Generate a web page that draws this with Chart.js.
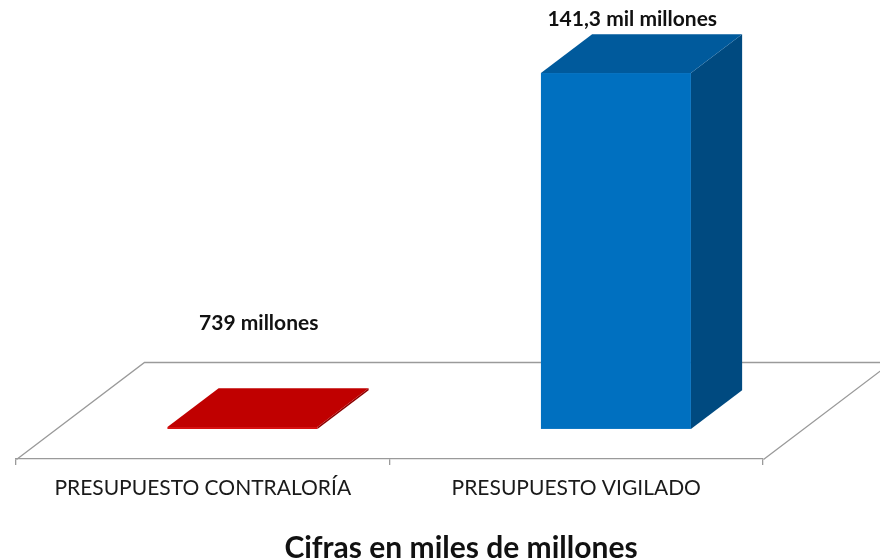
<!DOCTYPE html>
<html><head><meta charset="utf-8">
<script src="https://cdn.jsdelivr.net/npm/chart.js@4/dist/chart.umd.min.js"></script>
<style>html,body{margin:0;padding:0;background:#fff}#wrap{width:880px;height:560px;position:relative}</style>
</head><body><div id="wrap"><canvas id="c"></canvas></div>
<script>
// ---- data ----
const categories = ['PRESUPUESTO CONTRALORÍA', 'PRESUPUESTO VIGILADO'];
const values = [0.739, 141.3];            // miles de millones
const valueLabels = ['739 millones', '141,3 mil millones'];
const titleText = 'Cifras en miles de millones';

// ---- styles ----
const frontColors = ['#D40000', '#0070C0'];
const topColors = ['#C00000', '#005A9C'];
const sideColors = ['#8C0000', '#004A80'];
const FLOOR_DX = 128, FLOOR_DY = 97;   // floor depth vector
const BAR_F0 = 0.31, BAR_F1 = 0.71;    // bar depth position inside floor

function poly(ctx, pts) {
  ctx.beginPath();
  ctx.moveTo(pts[0][0], pts[0][1]);
  for (let k = 1; k < pts.length; k++) ctx.lineTo(pts[k][0], pts[k][1]);
  ctx.closePath();
  ctx.fill();
}

const threeD = {
  id: 'threeD',
  beforeDatasetsDraw(chart) {
    const { ctx, chartArea: a } = chart;
    ctx.save();
    // floor
    ctx.strokeStyle = '#9A9A9A';
    ctx.lineWidth = 1.3;
    ctx.beginPath();
    ctx.moveTo(a.left + 0.5, a.bottom + 0.5);
    ctx.lineTo(a.left + FLOOR_DX + 0.5, a.bottom - FLOOR_DY + 0.5);
    ctx.lineTo(a.right + FLOOR_DX + 0.5, a.bottom - FLOOR_DY + 0.5);
    ctx.lineTo(a.right + 0.5, a.bottom + 0.5);
    ctx.stroke();
    // bars
    const meta = chart.getDatasetMeta(0);
    const ox = FLOOR_DX * BAR_F0, oy = -FLOOR_DY * BAR_F0;
    const bx = FLOOR_DX * (BAR_F1 - BAR_F0), by = -FLOOR_DY * (BAR_F1 - BAR_F0);
    meta.data.forEach((bar, i) => {
      const p = bar.getProps(['x', 'y', 'base', 'width'], true);
      const l = p.x - p.width / 2 + ox, r = p.x + p.width / 2 + ox;
      const t = p.y + oy, b = p.base + oy;
      ctx.fillStyle = sideColors[i];
      poly(ctx, [[r, b], [r + bx, b + by], [r + bx, t + by], [r, t]]);
      ctx.fillStyle = topColors[i];
      poly(ctx, [[l, t], [r, t], [r + bx, t + by], [l + bx, t + by]]);
      ctx.fillStyle = frontColors[i];
      ctx.fillRect(l, t, r - l, b - t);
    });
    ctx.restore();
    return false;
  },
  afterDraw(chart) {
    const { ctx, chartArea: a } = chart;
    const meta = chart.getDatasetMeta(0);
    const oy = -FLOOR_DY * BAR_F0;
    const by = -FLOOR_DY * (BAR_F1 - BAR_F0);
    ctx.save();
    ctx.fillStyle = '#111111';
    ctx.textAlign = 'center';
    ctx.textBaseline = 'alphabetic';
    ctx.font = 'bold 21px Lato';
    meta.data.forEach((bar, i) => {
      const p = bar.getProps(['x', 'y'], true);
      const backTop = p.y + oy + by;
      const floorBack = a.bottom - FLOOR_DY;
      const ly = Math.min(backTop - 8, floorBack - 32);
      ctx.fillText(valueLabels[i], p.x + 56, ly);
    });
    ctx.font = 'bold 30px Lato';
    ctx.fillText(titleText, chart.width / 2 + 21, 558);
    ctx.restore();
  }
};

new Chart(document.getElementById('c'), {
  type: 'bar',
  data: {
    labels: categories,
    datasets: [{ data: values, backgroundColor: frontColors,
      categoryPercentage: 1, barPercentage: 0.4016 }]
  },
  options: {
    responsive: true,
    maintainAspectRatio: false,
    animation: false,
    devicePixelRatio: 1,
    layout: { padding: { left: 16, right: 117, top: 56, bottom: 61 } },
    plugins: { legend: { display: false }, tooltip: { enabled: false }, title: { display: false } },
    scales: {
      x: {
        afterFit(s) { s.height = 40; },
        grid: { drawOnChartArea: false, drawTicks: true, tickLength: 6, color: '#9A9A9A', offset: true, lineWidth: 1.3 },
        border: { display: true, color: '#9A9A9A', width: 1.3 },
        ticks: { color: '#1A1A1A', font: { family: 'Lato', size: 21 }, padding: 11, maxRotation: 0, autoSkip: false }
      },
      y: { display: false, min: 0, max: 160 }
    }
  },
  plugins: [threeD]
});
</script></body></html>
